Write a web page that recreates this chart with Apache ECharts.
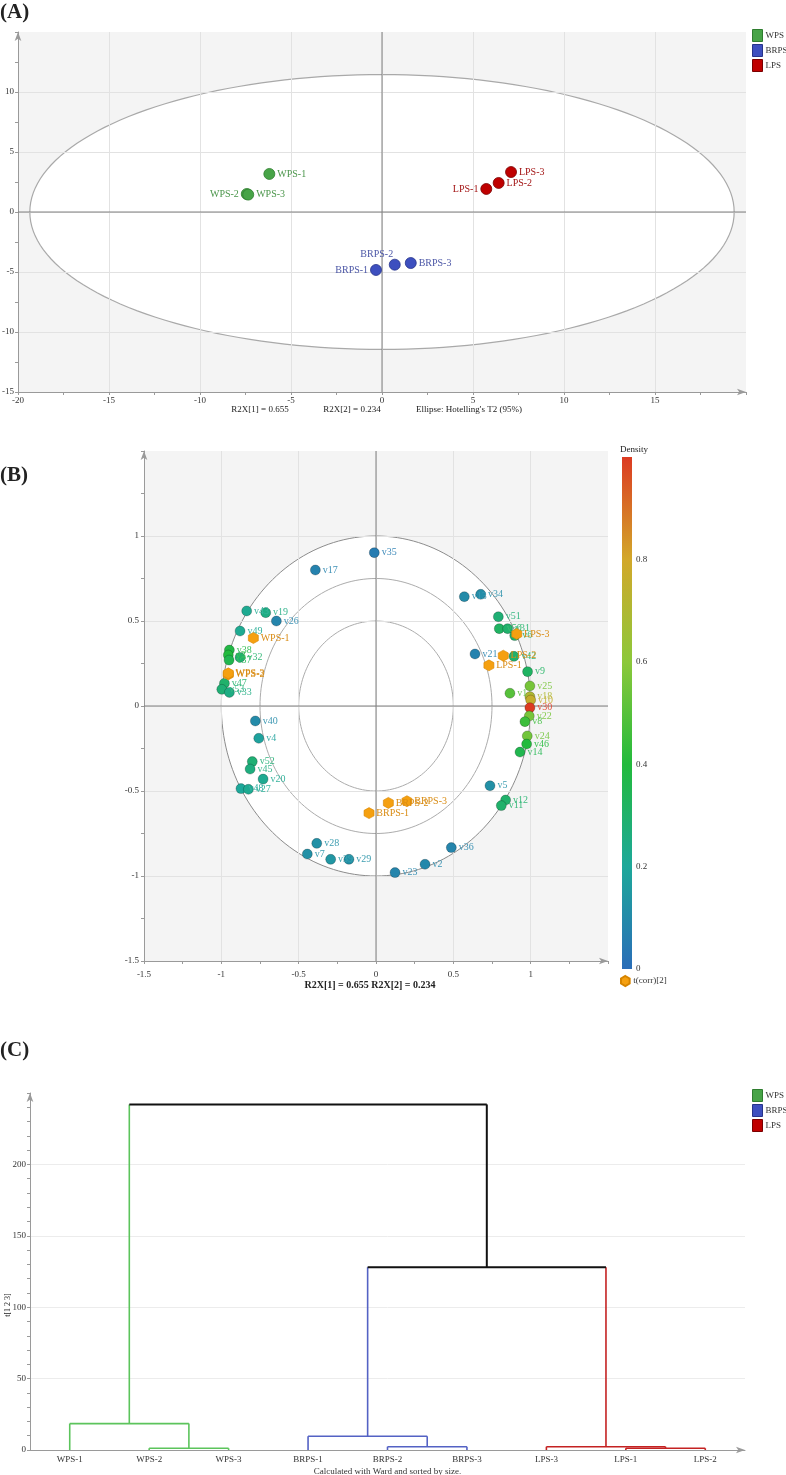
<!DOCTYPE html>
<html>
<head>
<meta charset="utf-8">
<title>PCA / HCA</title>
<script src="https://cdn.jsdelivr.net/npm/echarts@6.0.0/dist/echarts.min.js"></script>
<style>
  html, body { margin: 0; padding: 0; background: #fff; }
  #chart { width: 786px; height: 1475px; }
</style>
</head>
<body>
<div id="chart"></div>
<script>
// ---------- (A) score plot ----------
var groups = ['WPS', 'BRPS', 'LPS'];
var scoreNames = ['WPS-1', 'WPS-2', 'WPS-3', 'BRPS-1', 'BRPS-2', 'BRPS-3', 'LPS-1', 'LPS-2', 'LPS-3'];
var scoreGroup = ['WPS', 'WPS', 'WPS', 'BRPS', 'BRPS', 'BRPS', 'LPS', 'LPS', 'LPS'];
var scoreX = [-6.19, -7.43, -7.35, -0.33, 0.70, 1.58, 5.73, 6.41, 7.09];
var scoreY = [3.17, 1.50, 1.45, -4.83, -4.39, -4.25, 1.92, 2.42, 3.33];
var ellipseRadii = [19.35, 11.45]; // Hotelling's T2 (95%)

// ---------- (B) loading plot ----------
var varNames = ['v35', 'v17', 'v43', 'v19', 'v26', 'v49', 'v38', 'v3', 'v37', 'v32',
  'v47', 'v53', 'v33', 'v40', 'v4', 'v52', 'v45', 'v20', 'v48', 'v27',
  'v28', 'v7', 'v39', 'v29', 'v23', 'v2', 'v36', 'v13', 'v34', 'v51',
  'v50', 'v31', 'v6', 'v21', 'v42', 'v9', 'v25', 'v1', 'v18', 'v10',
  'v30', 'v22', 'v8', 'v24', 'v46', 'v14', 'v5', 'v12', 'v11'];
var varX = [-0.011, -0.392, -0.836, -0.713, -0.644, -0.879, -0.948, -0.955, -0.950, -0.879,
  -0.980, -0.997, -0.948, -0.780, -0.758, -0.800, -0.814, -0.730, -0.873, -0.825,
  -0.383, -0.444, -0.293, -0.175, 0.123, 0.317, 0.487, 0.571, 0.677, 0.791,
  0.797, 0.851, 0.897, 0.640, 0.892, 0.980, 0.995, 0.866, 0.995, 1.000,
  0.995, 0.991, 0.963, 0.978, 0.974, 0.931, 0.737, 0.838, 0.810];
var varY = [0.902, 0.800, 0.559, 0.549, 0.500, 0.441, 0.329, 0.300, 0.270, 0.286,
  0.133, 0.098, 0.080, -0.088, -0.190, -0.327, -0.371, -0.430, -0.486, -0.490,
  -0.808, -0.871, -0.902, -0.902, -0.980, -0.931, -0.833, 0.643, 0.657, 0.525,
  0.455, 0.455, 0.414, 0.306, 0.292, 0.202, 0.118, 0.075, 0.055, 0.035,
  -0.010, -0.059, -0.092, -0.176, -0.224, -0.271, -0.469, -0.553, -0.586];
var varDensity = [0.05, 0.07, 0.22, 0.25, 0.08, 0.22, 0.38, 0.40, 0.36, 0.30,
  0.30, 0.28, 0.25, 0.10, 0.18, 0.28, 0.26, 0.22, 0.20, 0.22,
  0.12, 0.12, 0.14, 0.12, 0.08, 0.09, 0.08, 0.10, 0.11, 0.28,
  0.32, 0.30, 0.30, 0.07, 0.30, 0.32, 0.56, 0.50, 0.70, 0.76,
  1.00, 0.56, 0.45, 0.55, 0.40, 0.36, 0.12, 0.30, 0.30];
var obsNames = ['WPS-1', 'WPS-2', 'WPS-3', 'BRPS-1', 'BRPS-2', 'BRPS-3', 'LPS-1', 'LPS-2', 'LPS-3'];
var obsX = [-0.793, -0.955, -0.955, -0.045, 0.080, 0.200, 0.730, 0.823, 0.910];
var obsY = [0.400, 0.186, 0.192, -0.630, -0.570, -0.560, 0.239, 0.296, 0.424];
var circleRadii = [1, 0.75, 0.5];

// ---------- (C) dendrogram ----------
var leafNames = ['WPS-1', 'WPS-2', 'WPS-3', 'BRPS-1', 'BRPS-2', 'BRPS-3', 'LPS-3', 'LPS-1', 'LPS-2'];
// nodes 0-8 are leaves, merge k creates node 9 + k
var mergeA = [1, 0, 4, 3, 7, 6, 12, 10];
var mergeB = [2, 9, 5, 11, 8, 13, 14, 15];
var mergeHeight = [1.2, 18.5, 2.3, 9.6, 1.2, 2.3, 128, 242];
var mergeGroup = ['WPS', 'WPS', 'BRPS', 'BRPS', 'LPS', 'LPS', 'root', 'root'];

// ---------- styles ----------
var serif = 'Liberation Serif';
var groupColor = {WPS: '#47a447', BRPS: '#3d4fbf', LPS: '#bf0000'};
var groupBorder = {WPS: '#2f7d2f', BRPS: '#27348a', LPS: '#7a0000'};
var groupText = {WPS: '#4a954a', BRPS: '#4b56a6', LPS: '#a31515'};
var treeColor = {WPS: '#5cc45c', BRPS: '#5462c4', LPS: '#c42222', root: '#111'};
var densityColors = ['#2a6db8', '#1da89a', '#22ba3c', '#8cc83a', '#d2a82a', '#dc3a22'];
var orange = '#f5a010';
var hexagon = 'path://M0,-5L4.33,-2.5L4.33,2.5L0,5L-4.33,2.5L-4.33,-2.5Z';
var labelPos = {'WPS-2': 'left', 'BRPS-1': 'left', 'LPS-1': 'left', 'BRPS-2': 'top'};

function ellipsePoints(api, rx, ry) {
    var pts = [];
    for (var k = 0; k <= 180; k++) {
        var t = k / 180 * Math.PI * 2;
        pts.push(api.coord([rx * Math.cos(t), ry * Math.sin(t)]));
    }
    return pts;
}

function zeroLines(params, api) {
    var o = api.coord([0, 0]);
    var cs = params.coordSys;
    return {
        type: 'group',
        children: [
            {type: 'line', shape: {x1: o[0], y1: cs.y, x2: o[0], y2: cs.y + cs.height}, style: {stroke: '#808080', lineWidth: 1}},
            {type: 'line', shape: {x1: cs.x, y1: o[1], x2: cs.x + cs.width, y2: o[1]}, style: {stroke: '#808080', lineWidth: 1}}
        ]
    };
}

function valueAxis(gi, min, max, interval, pos) {
    return {
        type: 'value', gridIndex: gi, min: min, max: max, interval: interval, position: pos, z: 1,
        axisLine: {show: true, onZero: false, symbol: ['none', 'arrow'], symbolSize: [5, 9], lineStyle: {color: '#9a9a9a'}},
        axisTick: {show: true, length: 3, lineStyle: {color: '#9a9a9a'}},
        minorTick: {show: true, splitNumber: 2, length: 3, lineStyle: {color: '#9a9a9a'}},
        axisLabel: {showMaxLabel: false, fontFamily: serif, fontSize: 9, color: '#333', margin: 4},
        splitLine: {show: true, showMinLine: false, showMaxLine: false, lineStyle: {color: '#e2e2e2'}}
    };
}

// node positions of the dendrogram
var nodeX = leafNames.map(function (n, i) { return i + 0.5; });
var nodeH = leafNames.map(function () { return 0; });
var nodeGroup = leafNames.map(function (n) { return n.split('-')[0]; });
mergeA.forEach(function (a, k) {
    var b = mergeB[k];
    nodeX.push((nodeX[a] + nodeX[b]) / 2);
    nodeH.push(mergeHeight[k]);
    nodeGroup.push(mergeGroup[k]);
});

function treeLine(p, q, g) {
    return {type: 'line', shape: {x1: p[0], y1: p[1], x2: q[0], y2: q[1]},
        style: {stroke: treeColor[g], lineWidth: g === 'root' ? 2 : 1.6}};
}

// ---------- series ----------
var series = [];

series.push({
    type: 'custom', xAxisIndex: 0, yAxisIndex: 0, z: 0, silent: true,
    data: [[0, 0]],
    renderItem: function (params, api) {
        return {type: 'polygon', shape: {points: ellipsePoints(api, ellipseRadii[0], ellipseRadii[1])},
            style: {fill: '#fff', stroke: '#a9a9a9', lineWidth: 1.2}};
    }
});
series.push({type: 'custom', xAxisIndex: 0, yAxisIndex: 0, z: 1.5, silent: true, data: [[0, 0]], renderItem: zeroLines});

groups.forEach(function (g) {
    var data = [];
    scoreNames.forEach(function (n, i) {
        if (scoreGroup[i] !== g) return;
        var pos = labelPos[n] || 'right';
        data.push({name: n, value: [scoreX[i], scoreY[i]],
            label: {position: pos, offset: pos === 'top' ? [-18, 3] : [0, 0]}});
    });
    series.push({
        name: g, type: 'scatter', xAxisIndex: 0, yAxisIndex: 0, z: 2,
        symbolSize: 11, data: data,
        itemStyle: {color: groupColor[g], borderColor: groupBorder[g], borderWidth: 0.8, opacity: 1},
        label: {show: true, formatter: '{b}', distance: 2, fontFamily: serif, fontSize: 10, color: groupText[g]}
    });
});

series.push({
    type: 'custom', xAxisIndex: 1, yAxisIndex: 1, z: 0, silent: true,
    data: circleRadii.map(function (r) { return [r, 0]; }),
    renderItem: function (params, api) {
        var r = api.value(0);
        return {type: 'polygon', shape: {points: ellipsePoints(api, r, r)},
            style: {fill: r === 1 ? '#fff' : 'none', stroke: r === 1 ? '#8c8c8c' : '#acacac', lineWidth: 1}};
    }
});
series.push({type: 'custom', xAxisIndex: 1, yAxisIndex: 1, z: 1.5, silent: true, data: [[0, 0]], renderItem: zeroLines});

series.push({
    name: 'variables', type: 'scatter', xAxisIndex: 1, yAxisIndex: 1, z: 2, symbolSize: 10,
    data: varNames.map(function (n, i) {
        var c = echarts.color.lerp(varDensity[i], densityColors);
        return {name: n, value: [varX[i], varY[i], varDensity[i]],
            itemStyle: {color: c}, label: {color: echarts.color.lift(c, 0.12)}};
    }),
    itemStyle: {borderColor: 'rgba(0,0,0,0.28)', borderWidth: 0.8, opacity: 1},
    label: {show: true, position: 'right', distance: 2, formatter: '{b}', fontFamily: serif, fontSize: 10}
});
series.push({
    name: 't(corr)[2]', type: 'scatter', xAxisIndex: 1, yAxisIndex: 1, z: 3,
    symbol: hexagon, symbolSize: [10, 11],
    data: obsNames.map(function (n, i) { return {name: n, value: [obsX[i], obsY[i]]}; }),
    itemStyle: {color: orange, borderColor: '#d68400', borderWidth: 0.6, opacity: 1},
    label: {show: true, position: 'right', distance: 2, formatter: '{b}', fontFamily: serif, fontSize: 10, color: '#d98c14'}
});

series.push({
    type: 'custom', xAxisIndex: 2, yAxisIndex: 2, silent: true, data: [[0, 0]],
    renderItem: function (params, api) {
        var p0 = api.coord([0, 1]), p1 = api.coord([1, 0]);
        return {type: 'rect', shape: {x: p0[0], y: p0[1], width: p1[0] - p0[0], height: p1[1] - p0[1]},
            style: {fill: {type: 'linear', x: 0, y: 1, x2: 0, y2: 0, global: false,
                colorStops: densityColors.map(function (c, i) { return {offset: i / (densityColors.length - 1), color: c}; })}}};
    }
});

series.push({
    type: 'custom', xAxisIndex: 3, yAxisIndex: 3, silent: true,
    data: mergeHeight.map(function (h, k) { return [k, h]; }),
    renderItem: function (params, api) {
        var k = params.dataIndex, a = mergeA[k], b = mergeB[k], h = mergeHeight[k];
        var pa = api.coord([nodeX[a], nodeH[a]]), pb = api.coord([nodeX[b], nodeH[b]]);
        var ta = api.coord([nodeX[a], h]), tb = api.coord([nodeX[b], h]);
        return {type: 'group', children: [
            treeLine(pa, ta, nodeGroup[a]),
            treeLine(pb, tb, nodeGroup[b]),
            treeLine(ta, tb, mergeGroup[k])
        ]};
    }
});

// ---------- axes ----------
var axA = valueAxis(0, -20, 20, 5, 'bottom');
var ayA = valueAxis(0, -15, 15, 5, 'left');
var axB = valueAxis(1, -1.5, 1.5, 0.5, 'bottom');
var ayB = valueAxis(1, -1.5, 1.5, 0.5, 'left');
axB.axisLabel.margin = 9;
ayB.axisLabel.margin = 5;

var axC = valueAxis(3, 0, 9, 0.5, 'bottom');
axC.axisTick.show = false;
axC.minorTick.show = false;
axC.splitLine.show = false;
axC.axisLabel.margin = 5;
axC.axisLabel.formatter = function (v) {
    var i = v - 0.5;
    return Math.abs(i - Math.round(i)) < 1e-6 ? (leafNames[Math.round(i)] || '') : '';
};
axC.name = 'Calculated with Ward and sorted by size.';
axC.nameLocation = 'middle';
axC.nameGap = 17;
axC.nameTextStyle = {fontFamily: serif, fontSize: 9, color: '#333'};
var ayC = valueAxis(3, 0, 250, 50, 'left');
ayC.minorTick.splitNumber = 5;
ayC.splitLine.lineStyle.color = '#ececec';

var axCb = {type: 'value', gridIndex: 2, min: 0, max: 1, show: false};
var ayCb = {type: 'value', gridIndex: 2, min: 0, max: 1, interval: 0.2, position: 'right',
    axisLine: {show: false}, axisTick: {show: false}, splitLine: {show: false},
    axisLabel: {showMaxLabel: false, margin: 4, fontFamily: serif, fontSize: 9, color: '#333'}};

function legendOf(top) {
    return {
        orient: 'vertical', left: 752, top: top, padding: 0, itemGap: 2, itemWidth: 10, itemHeight: 12,
        icon: 'rect', selectedMode: false,
        textStyle: {fontFamily: serif, fontSize: 9, color: '#333', padding: [0, 0, 0, -2]},
        data: groups.map(function (g) {
            return {name: g, itemStyle: {color: groupColor[g], borderColor: groupBorder[g], borderWidth: 1}};
        })
    };
}

function label(text, x, y, font, align, rotation) {
    return {type: 'text', x: x, y: y, rotation: rotation || 0, silent: true,
        style: {text: text, font: font, fill: '#222', align: align || 'center', verticalAlign: 'middle',
            textAlign: align || 'center', textVerticalAlign: 'middle'}};
}

var option = {
    animation: false,
    backgroundColor: '#fff',
    grid: [
        {left: 18, top: 32, width: 728, height: 360, show: true, backgroundColor: '#f4f4f4', borderWidth: 0, outerBoundsMode: 'none', containLabel: false},
        {left: 144, top: 451, width: 464, height: 510, show: true, backgroundColor: '#f4f4f4', borderWidth: 0, outerBoundsMode: 'none', containLabel: false},
        {left: 622, top: 457, width: 10, height: 512, outerBoundsMode: 'none', containLabel: false},
        {left: 30, top: 1093, width: 715, height: 357, outerBoundsMode: 'none', containLabel: false}
    ],
    xAxis: [axA, axB, axCb, axC],
    yAxis: [ayA, ayB, ayCb, ayC],
    legend: [
        legendOf(29),
        legendOf(1089),
        {left: 620, top: 975, padding: 0, itemWidth: 10, itemHeight: 10, selectedMode: false,
            textStyle: {fontFamily: serif, fontSize: 9, color: '#333', padding: [0, 0, 0, -2]},
            data: [{name: 't(corr)[2]', icon: hexagon}]}
    ],
    graphic: [
        label('(A)', 0, 13, 'bold 21px ' + serif, 'left'),
        label('(B)', 0, 476, 'bold 21px ' + serif, 'left'),
        label('(C)', 0, 1051, 'bold 21px ' + serif, 'left'),
        label('R2X[1] = 0.655', 260, 410, '9px ' + serif),
        label('R2X[2] = 0.234', 352, 410, '9px ' + serif),
        label("Ellipse: Hotelling's T2 (95%)", 469, 410, '9px ' + serif),
        label('R2X[1] = 0.655 R2X[2] = 0.234', 370, 985, 'bold 10px ' + serif),
        label('Density', 634, 450, '9px ' + serif),
        label('t[1 2 3]', 8, 1305, '8px ' + serif, 'center', Math.PI / 2)
    ],
    series: series
};

var chart = echarts.init(document.getElementById('chart'));
chart.setOption(option);
</script>
</body>
</html>
